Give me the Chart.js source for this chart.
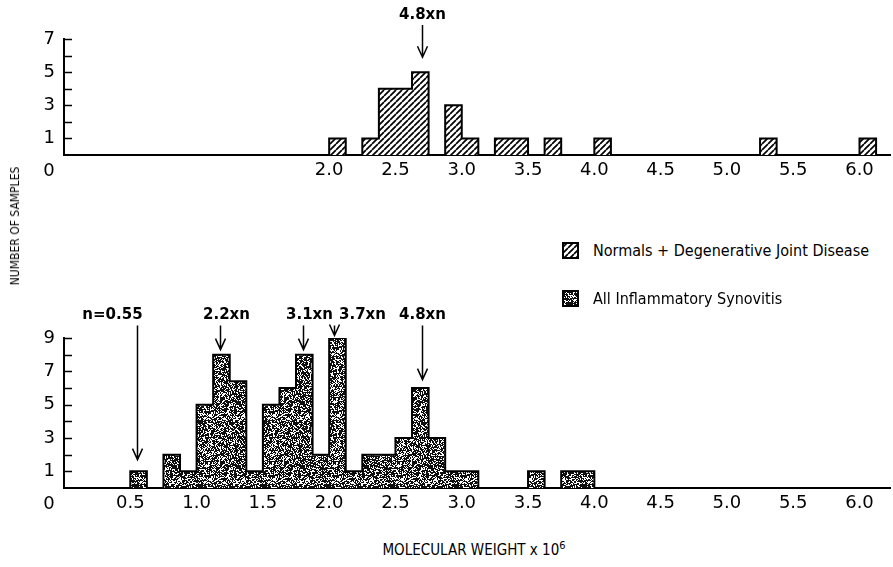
<!DOCTYPE html>
<html>
<head>
<meta charset="utf-8">
<script src="https://cdn.jsdelivr.net/npm/chart.js@4.4.0/dist/chart.umd.min.js"></script>
<style>
  body { margin: 0; background: #fff; width: 893px; height: 567px; position: relative; overflow: hidden;
         font-family: "DejaVu Sans Condensed", "DejaVu Sans", sans-serif; color: #000; }
  #topWrap { position: absolute; left: 0; top: 0; width: 893px; height: 185px; }
  #botWrap { position: absolute; left: 0; top: 280px; width: 893px; height: 250px; }
  .leg { position: absolute; left: 562px; height: 18px; display: flex; align-items: center; font-size: 16px; font-stretch: condensed; }
  .leg canvas { margin-right: 14px; }
  #ytitle { position: absolute; left: 15px; top: 226px; transform: translate(-50%, -50%) rotate(-90deg);
            white-space: nowrap; font-size: 12px; font-stretch: condensed; }
  #xtitle { position: absolute; left: 474px; top: 549px; transform: translate(-50%, -50%);
            white-space: nowrap; font-size: 15px; font-stretch: condensed; }
  #xtitle sup { font-size: 11px; }
</style>
</head>
<body>
<div id="topWrap"><canvas id="topChart"></canvas></div>
<div id="botWrap"><canvas id="botChart"></canvas></div>
<div class="leg" style="top:241px"><canvas id="sw1" width="17" height="17"></canvas><span>Normals + Degenerative Joint Disease</span></div>
<div class="leg" style="top:289px"><canvas id="sw2" width="17" height="17"></canvas><span>All Inflammatory Synovitis</span></div>
<div id="ytitle">NUMBER OF SAMPLES</div>
<div id="xtitle">MOLECULAR WEIGHT x 10<sup>6</sup></div>
<script>
// histogram bins (left edges, x10^6) and sample counts
const binWidth = 0.125;
const topBins = [2.0, 2.25, 2.375, 2.5, 2.625, 2.875, 3.0, 3.25, 3.375, 3.625, 4.0, 5.25, 6.0];
const topCounts = [1, 1, 4, 4, 5, 3, 1, 1, 1, 1, 1, 1, 1];
const botBins = [0.5, 0.75, 0.875, 1.0, 1.125, 1.25, 1.375, 1.5, 1.625, 1.75, 1.875, 2.0, 2.125,
                 2.25, 2.375, 2.5, 2.625, 2.75, 2.875, 3.0, 3.5, 3.75, 3.875];
const botCounts = [1, 2, 1, 5, 8, 6.4, 1, 5, 6, 8, 2, 9, 1, 2, 2, 3, 6, 3, 1, 1, 1, 1, 1];

const topXTicks = [2.0, 2.5, 3.0, 3.5, 4.0, 4.5, 5.0, 5.5, 6.0];
const botXTicks = [0.5, 1.0, 1.5, 2.0, 2.5, 3.0, 3.5, 4.0, 4.5, 5.0, 5.5, 6.0];
const topYTicks = [1, 2, 3, 4, 5, 6, 7];
const botYTicks = [1, 2, 3, 4, 5, 6, 7, 8, 9];

// arrow annotations: x position, tip height, label
const topArrowX = [2.7];
const topArrowTip = [5.9];
const topArrowLabel = ['4.8xn'];
const botArrowX = [0.55, 1.18, 1.8, 2.04, 2.7];
const botArrowTip = [1.7, 8.3, 8.3, 9.15, 6.5];
const botArrowLabel = ['n=0.55', '2.2xn', '3.1xn', '3.7xn', '4.8xn'];
const botLabelShift = [-25, 6, 6, 28, 0];

const tickFont = { family: 'DejaVu Sans', size: 18 };

function stepPoints(bins, counts) {
  const pts = [];
  let end = null;
  bins.forEach((b, i) => {
    if (end === null) pts.push({ x: b, y: 0 });
    else if (Math.abs(b - end) > 1e-6) pts.push({ x: end, y: 0 });
    pts.push({ x: b, y: counts[i] });
    end = b + binWidth;
  });
  pts.push({ x: end, y: 0 });
  return pts;
}

function hatchPattern(ctx) {
  const c = document.createElement('canvas');
  c.width = c.height = 6;
  const g = c.getContext('2d');
  g.fillStyle = '#fff';
  g.fillRect(0, 0, 6, 6);
  g.strokeStyle = '#000';
  g.lineWidth = 1.7;
  g.beginPath();
  for (let k = -1; k <= 1; k++) { g.moveTo(k * 6, 6); g.lineTo(k * 6 + 6, 0); }
  g.stroke();
  return ctx.createPattern(c, 'repeat');
}

function stipplePattern(ctx) {
  const n = 64;
  const c = document.createElement('canvas');
  c.width = c.height = n;
  const g = c.getContext('2d');
  const img = g.createImageData(n, n);
  for (let y = 0; y < n; y++) {
    for (let x = 0; x < n; x++) {
      const s = Math.sin(x * 12.9898 + y * 78.233) * 43758.5453;
      const v = (s - Math.floor(s)) < 0.64 ? 15 : 255;
      const i = (y * n + x) * 4;
      img.data[i] = img.data[i + 1] = img.data[i + 2] = v;
      img.data[i + 3] = 255;
    }
  }
  g.putImageData(img, 0, 0);
  return ctx.createPattern(c, 'repeat');
}

// inward tick marks on the y axis, the lone "0" at the corner, and arrows
const decor = {
  id: 'decor',
  afterDraw(chart, args, opts) {
    const { ctx, chartArea } = chart;
    const xs = chart.scales.x, ys = chart.scales.y;
    ctx.save();
    ctx.strokeStyle = '#000';
    ctx.fillStyle = '#000';
    ctx.lineWidth = 1.5;
    ctx.beginPath();
    opts.yTicks.forEach(v => {
      const py = Math.round(ys.getPixelForValue(v)) + 0.5;
      ctx.moveTo(chartArea.left, py);
      ctx.lineTo(chartArea.left + 8, py);
    });
    ctx.stroke();

    ctx.font = '18px "DejaVu Sans"';
    ctx.textAlign = 'center';
    ctx.textBaseline = 'middle';
    ctx.fillText('0', chartArea.left - 15, xs.top + 16);

    ctx.font = 'bold 15px "DejaVu Sans"';
    ctx.textBaseline = 'middle';
    const ty = ys.getPixelForValue(opts.textY);
    opts.xs.forEach((v, i) => {
      const px = Math.round(xs.getPixelForValue(v)) + 0.5;
      const tip = ys.getPixelForValue(opts.tips[i]);
      ctx.fillText(opts.labels[i], px + (opts.shift ? opts.shift[i] : 0), ty);
      ctx.lineWidth = 1.5;
      ctx.beginPath();
      ctx.moveTo(px, ty + 10);
      ctx.lineTo(px, tip);
      ctx.moveTo(px - 5, tip - 11);
      ctx.lineTo(px, tip);
      ctx.lineTo(px + 5, tip - 11);
      ctx.stroke();
    });
    ctx.restore();
  }
};

function makeChart(id, bins, counts, xTicks, yTicks, yMax, baseY, topPad, fillFn, arrows) {
  const canvas = document.getElementById(id);
  const ctx = canvas.getContext('2d');
  const h = canvas.parentNode.clientHeight;
  return new Chart(ctx, {
    type: 'line',
    data: {
      datasets: [{
        data: stepPoints(bins, counts),
        stepped: true,
        fill: 'origin',
        backgroundColor: fillFn(ctx),
        borderColor: '#000',
        borderWidth: 2,
        pointRadius: 0,
        tension: 0
      }]
    },
    options: {
      responsive: true,
      maintainAspectRatio: false,
      animation: false,
      events: [],
      layout: { padding: { top: topPad, right: 3, left: 0, bottom: 0 } },
      plugins: { legend: { display: false }, tooltip: { enabled: false }, decor: arrows },
      scales: {
        x: {
          type: 'linear',
          min: 0,
          max: 6.23,
          afterFit: s => { s.height = h - baseY; },
          afterBuildTicks: s => { s.ticks = xTicks.map(v => ({ value: v })); },
          grid: { display: false, drawTicks: false },
          border: { display: true, color: '#000', width: 2 },
          ticks: { color: '#000', font: tickFont, padding: 5, maxRotation: 0, autoSkip: false,
                   callback: v => v.toFixed(1) }
        },
        y: {
          min: 0,
          max: yMax,
          afterFit: s => { s.width = 64; },
          afterBuildTicks: s => { s.ticks = yTicks.map(v => ({ value: v })); },
          grid: { display: false, drawTicks: false },
          border: { display: true, color: '#000', width: 2 },
          ticks: { color: '#000', font: tickFont, padding: 9, autoSkip: false,
                   callback: v => (v % 2 === 1 ? String(v) : '') }
        }
      }
    },
    plugins: [decor]
  });
}

makeChart('topChart', topBins, topCounts, topXTicks, topYTicks, 7, 155, 39, hatchPattern,
  { xs: topArrowX, tips: topArrowTip, labels: topArrowLabel, textY: 8.45, yTicks: topYTicks });
makeChart('botChart', botBins, botCounts, botXTicks, botYTicks, 9, 208, 58, stipplePattern,
  { xs: botArrowX, tips: botArrowTip, labels: botArrowLabel, shift: botLabelShift, textY: 10.35, yTicks: botYTicks });

function swatch(id, fillFn) {
  const c = document.getElementById(id);
  const g = c.getContext('2d');
  g.fillStyle = fillFn(g);
  g.fillRect(0, 0, 17, 17);
  g.strokeStyle = '#000';
  g.lineWidth = 2;
  g.strokeRect(1, 1, 15, 15);
}
swatch('sw1', hatchPattern);
swatch('sw2', stipplePattern);
</script>
</body>
</html>
